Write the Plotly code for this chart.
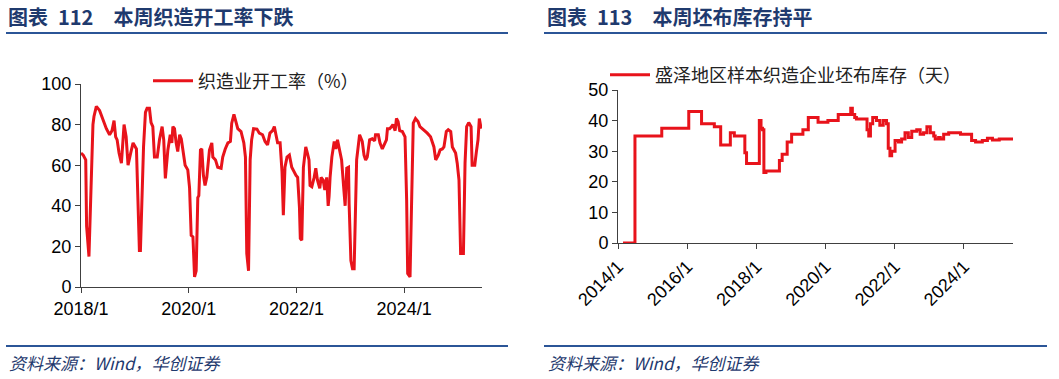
import plotly.graph_objects as go

# ---------------- data: left chart (织造业开工率, %) ----------------
rate_dates = [
    "2018-01-01", "2018-01-16", "2018-02-02", "2018-02-08", "2018-02-24", "2018-03-12", "2018-03-23",
    "2018-03-30", "2018-04-15", "2018-05-07", "2018-05-30", "2018-06-22", "2018-07-14", "2018-07-30",
    "2018-08-13", "2018-08-24", "2018-09-03", "2018-09-16", "2018-10-02", "2018-10-20", "2018-11-03",
    "2018-11-16", "2018-12-04", "2018-12-20", "2019-01-12", "2019-02-01", "2019-02-08", "2019-03-01",
    "2019-03-14", "2019-03-25", "2019-04-10", "2019-04-21", "2019-05-03", "2019-05-14", "2019-06-02",
    "2019-06-17", "2019-07-05", "2019-07-16", "2019-07-27", "2019-08-13", "2019-08-29", "2019-09-09",
    "2019-09-16", "2019-09-27", "2019-10-08", "2019-10-19", "2019-11-01", "2019-11-12", "2019-11-23",
    "2019-12-08", "2019-12-26", "2020-01-07", "2020-01-18", "2020-01-30", "2020-02-10", "2020-02-21",
    "2020-03-03", "2020-03-10", "2020-03-21", "2020-03-30", "2020-04-10", "2020-04-21", "2020-05-03",
    "2020-05-14", "2020-05-21", "2020-06-06", "2020-06-13", "2020-07-01", "2020-07-16", "2020-08-08",
    "2020-08-19", "2020-09-05", "2020-09-23", "2020-10-10", "2020-10-19", "2020-11-03", "2020-11-18",
    "2020-11-29", "2020-12-21", "2021-01-09", "2021-01-20", "2021-01-29", "2021-02-10", "2021-02-21",
    "2021-03-03", "2021-03-16", "2021-04-08", "2021-04-24", "2021-05-16", "2021-06-02", "2021-06-19",
    "2021-07-05", "2021-07-23", "2021-08-04", "2021-08-15", "2021-08-26", "2021-09-12", "2021-09-25",
    "2021-10-04", "2021-10-15", "2021-10-29", "2021-11-14", "2021-11-30", "2021-12-15", "2021-12-29",
    "2022-01-09", "2022-01-21", "2022-01-27", "2022-02-06", "2022-02-17", "2022-03-05", "2022-03-16",
    "2022-03-27", "2022-04-03", "2022-04-15", "2022-05-01", "2022-05-12", "2022-05-23", "2022-06-08",
    "2022-06-17", "2022-07-01", "2022-07-12", "2022-07-25", "2022-08-04", "2022-08-10", "2022-08-17",
    "2022-08-29", "2022-09-14", "2022-09-25", "2022-10-06", "2022-10-17", "2022-11-03", "2022-11-16",
    "2022-11-27", "2022-12-08", "2022-12-20", "2022-12-24", "2023-01-05", "2023-01-16", "2023-01-27",
    "2023-02-13", "2023-02-26", "2023-03-05", "2023-03-23", "2023-04-04", "2023-04-15", "2023-04-26",
    "2023-05-12", "2023-05-30", "2023-06-15", "2023-06-21", "2023-07-10", "2023-07-21", "2023-08-06",
    "2023-08-21", "2023-09-03", "2023-09-10", "2023-09-25", "2023-10-08", "2023-10-17", "2023-11-01",
    "2023-11-10", "2023-11-21", "2023-12-02", "2023-12-20", "2024-01-07", "2024-01-18", "2024-01-25",
    "2024-02-10", "2024-02-21", "2024-03-03", "2024-03-18", "2024-04-04", "2024-04-17", "2024-05-03",
    "2024-05-21", "2024-06-06", "2024-06-28", "2024-07-09", "2024-07-21", "2024-08-02", "2024-08-20",
    "2024-09-01", "2024-09-16", "2024-09-27", "2024-10-04", "2024-10-13", "2024-10-26", "2024-11-12",
    "2024-11-23", "2024-12-04", "2024-12-15", "2024-12-26", "2025-01-07", "2025-01-18", "2025-02-06",
    "2025-02-17", "2025-02-28", "2025-03-14", "2025-03-30", "2025-04-06", "2025-04-24", "2025-05-05",
    "2025-05-16", "2025-05-25", "2025-06-06",
]
rate_values = [
    66, 65, 62.6, 30, 15, 62, 80,
    84, 89, 87, 82, 78, 75, 77,
    82, 74, 72.5, 66, 61, 80, 74,
    60, 66, 71, 68, 18, 18, 69,
    86, 88, 88, 81, 79, 64, 64,
    72.5, 79, 72.5, 53.5, 67.5, 75, 71,
    79, 78, 71, 66.7, 75, 73, 67.5,
    60, 57.7, 49, 25.5, 24.7, 5, 8,
    44, 45, 67.5, 68, 55, 50, 54,
    61, 67.5, 71, 64, 62.6, 59, 58.5,
    64, 68, 71, 71.7, 80.7, 85, 81.5,
    78, 76.6, 71, 64, 16.5, 8, 62.6,
    72.5, 78, 77.8, 75.8, 75, 71.7, 70,
    75.8, 77, 79, 75, 71, 71, 56.8,
    35.4, 59, 64, 65, 59, 56.8, 55,
    54, 39.5, 23.9, 23, 59, 69, 66,
    62.6, 50, 49.4, 54, 58.5, 52.7, 48.6,
    54, 52.7, 47.8, 54, 40, 44.5, 54,
    64, 71.7, 68, 72.5, 68, 62.6, 50,
    40, 58.5, 59, 41, 13, 9, 9,
    62.6, 72.5, 75, 71.7, 65, 62.6, 64,
    72.5, 73, 72, 75, 75, 71, 68,
    71, 72.5, 78, 78, 79, 80, 77,
    83, 81.5, 77, 76.6, 74, 43, 6.6,
    5, 44.5, 80.7, 83, 81.5, 79, 78,
    77, 75.8, 74, 71.7, 69, 62.6, 65,
    67.5, 68, 69, 72.5, 76.6, 77.5, 76.6,
    69, 67.5, 66, 61, 52.7, 16.5, 16.5,
    61, 79, 81, 79, 60, 60, 66.7,
    72.5, 83, 78,
]

# ---------------- data: right chart (坯布库存, 天) — value holds until next date ----------------
stock_dates = [
    "2014-02-23", "2014-06-29", "2015-04-08", "2016-01-18", "2016-06-01", "2016-10-14", "2016-12-20",
    "2017-04-01", "2017-05-13", "2017-09-01", "2017-09-19", "2018-02-01", "2018-02-19", "2018-03-07",
    "2018-03-21", "2018-04-12", "2018-09-01", "2018-09-30", "2018-11-22", "2019-01-08", "2019-05-07",
    "2019-07-03", "2019-10-14", "2020-01-26", "2020-05-14", "2020-09-23", "2020-10-10", "2020-11-04",
    "2020-11-22", "2021-03-14", "2021-04-01", "2021-04-19", "2021-05-13", "2021-06-22", "2021-07-27",
    "2021-09-01", "2021-10-06", "2021-10-24", "2021-11-11", "2021-11-29", "2022-01-04", "2022-02-09",
    "2022-03-14", "2022-04-19", "2022-05-24", "2022-06-29", "2022-08-21", "2022-09-26", "2022-11-01",
    "2022-12-06", "2023-01-11", "2023-02-16", "2023-03-04", "2023-04-09", "2023-04-26", "2023-06-01",
    "2023-07-24", "2023-11-26", "2024-03-22", "2024-05-03", "2024-07-13", "2024-09-05", "2024-10-28",
    "2025-01-08", "2025-06-02",
]
stock_values = [
    0, 35, 37.5, 43, 39, 38, 32,
    36, 35, 29.5, 26, 40, 37.5, 37,
    23, 23.5, 27, 29, 33, 35.5, 37,
    41, 39.5, 40, 42, 44, 42, 41,
    40.5, 37, 35, 39, 41, 40, 38.5,
    40, 39, 31, 28.5, 30, 33.5, 33,
    34, 36, 34.5, 36.5, 37, 35.5, 36,
    38, 36, 35, 34, 34.5, 34, 35.5,
    36, 35.5, 33.5, 33, 33.5, 34.2, 33.7,
    34, 34,
]

left_ticks = ["2018-01-01", "2020-01-01", "2022-01-01", "2024-01-01"]
left_ticktext = ["2018/1", "2020/1", "2022/1", "2024/1"]
right_ticks = ["2014-01-01", "2016-01-01", "2018-01-01", "2020-01-01", "2022-01-01", "2024-01-01"]
right_ticktext = ["2014/1", "2016/1", "2018/1", "2020/1", "2022/1", "2024/1"]

# ---------------- styles ----------------
W, H = 1059, 379
RED = "#E8131B"
BLUE = "#1F3A6E"
RULE = "#2B5597"
AXIS = "#404040"
CJK = "Noto Sans CJK SC"
NUM = "Liberation Sans, Arial, sans-serif"

def px_x(v):
    return v / W

def px_y(v):
    return 1 - v / H

fig = go.Figure()

fig.add_trace(go.Scatter(
    x=rate_dates, y=rate_values, mode="lines", name="织造业开工率（%）",
    line=dict(color=RED, width=3), xaxis="x", yaxis="y", legend="legend",
))
fig.add_trace(go.Scatter(
    x=stock_dates, y=stock_values, mode="lines", name="盛泽地区样本织造企业坯布库存（天）",
    line=dict(color=RED, width=3, shape="hv"), xaxis="x2", yaxis="y2", legend="legend2",
))

axis_common = dict(
    showgrid=False, zeroline=False, showline=True, linecolor=AXIS, linewidth=1,
    ticks="outside", ticklen=5, tickcolor=AXIS, tickwidth=1, automargin=False,
    tickfont=dict(family=NUM, size=18, color="#000000"),
)

fig.update_layout(
    template="none",
    width=W, height=H, autosize=False,
    margin=dict(l=0, r=0, t=0, b=0, pad=0),
    paper_bgcolor="white", plot_bgcolor="white",
    showlegend=True,
    xaxis=dict(
        domain=[px_x(81), px_x(482)], anchor="y", type="date",
        range=["2018-01-01", "2025-06-12"],
        tickvals=left_ticks, ticktext=left_ticktext, tickangle=0,
        **axis_common,
    ),
    yaxis=dict(
        domain=[px_y(287), px_y(84)], anchor="x",
        range=[0, 100], dtick=20, tick0=0,
        **axis_common,
    ),
    xaxis2=dict(
        domain=[px_x(618), px_x(1013)], anchor="y2", type="date",
        range=["2014-01-01", "2025-06-02"],
        tickvals=right_ticks, ticktext=right_ticktext, tickangle=-45,
        **axis_common,
    ),
    yaxis2=dict(
        domain=[px_y(243), px_y(90)], anchor="x2",
        range=[0, 50], dtick=10, tick0=0,
        **axis_common,
    ),
    legend=dict(
        x=px_x(148), y=px_y(81), xanchor="left", yanchor="middle",
        font=dict(family=CJK, size=18, color="#222222"),
        bgcolor="rgba(0,0,0,0)", borderwidth=0, itemwidth=40,
    ),
    legend2=dict(
        x=px_x(605), y=px_y(75), xanchor="left", yanchor="middle",
        font=dict(family=CJK, size=18, color="#222222"),
        bgcolor="rgba(0,0,0,0)", borderwidth=0, itemwidth=40,
    ),
)

# titles
fig.add_annotation(
    text="<b>图表\u2002112\u3000本周织造开工率下跌</b>", x=px_x(6), y=px_y(16),
    xref="paper", yref="paper", xanchor="left", yanchor="middle", showarrow=False,
    font=dict(family=CJK, size=20, color=BLUE),
)
fig.add_annotation(
    text="<b>图表\u2002113\u3000本周坯布库存持平</b>", x=px_x(545), y=px_y(16),
    xref="paper", yref="paper", xanchor="left", yanchor="middle", showarrow=False,
    font=dict(family=CJK, size=20, color=BLUE),
)
# source notes
for x0 in (7, 546):
    fig.add_annotation(
        text="<i>资料来源：Wind，华创证券</i>", x=px_x(x0), y=px_y(362),
        xref="paper", yref="paper", xanchor="left", yanchor="middle", showarrow=False,
        font=dict(family=CJK, size=17, color=BLUE),
    )

# horizontal rules under titles and above sources
for (xa, xb) in ((6, 508), (544, 1047)):
    for yy in (33, 346):
        fig.add_shape(
            type="line", xref="paper", yref="paper",
            x0=px_x(xa), x1=px_x(xb), y0=px_y(yy), y1=px_y(yy),
            line=dict(color=RULE, width=2),
        )

fig.write_html(
    "out.html",
    config={"displayModeBar": False},
    post_script="document.body.style.margin='0px';",
)
